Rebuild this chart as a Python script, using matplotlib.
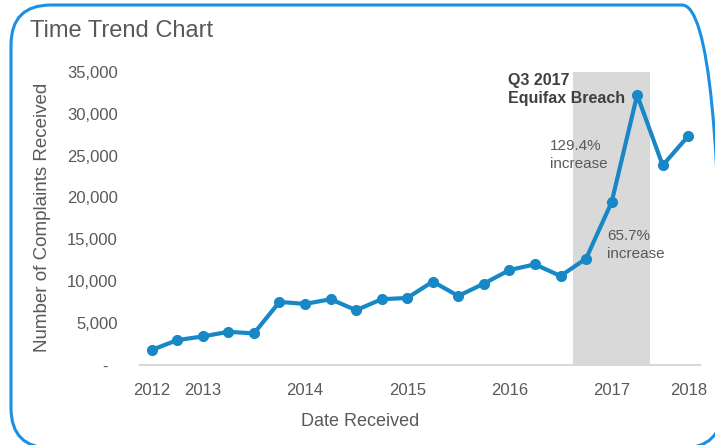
import matplotlib.pyplot as plt
from matplotlib.patches import FancyBboxPatch

# quarterly complaint counts
complaints = [1800, 2970, 3410, 3960, 3770, 7530, 7290, 7850, 6540, 7850, 8000,
              9950, 8240, 9710, 11330, 12010, 10620, 12690, 19420, 32220, 23820, 27330]
year_ticks = [0, 2, 6, 10, 14, 18, 21]
year_labels = ["2012", "2013", "2014", "2015", "2016", "2017", "2018"]
breach_span = [16.5, 19.5]
y_ticks = [0, 5000, 10000, 15000, 20000, 25000, 30000, 35000]

plt.rcParams["font.family"] = ["Liberation Sans", "DejaVu Sans"]
text_grey = "#595959"
line_blue = "#1788c5"

fig = plt.figure(figsize=(7.15, 4.45), dpi=100)
ax = fig.add_axes([140 / 715, 80 / 445, 560 / 715, 293.3 / 445])

x = list(range(len(complaints)))
ax.axvspan(breach_span[0], breach_span[1], color="#d9d9d9", lw=0, zorder=1)
ax.plot(x, complaints, color=line_blue, lw=3, marker="o", markersize=7, zorder=3)

ax.set_xlim(-0.46, 21.46)
ax.set_ylim(0, 35000)
ax.set_xticks(year_ticks)
ax.set_xticklabels(year_labels)
ax.set_yticks(y_ticks)
ax.set_yticklabels(["-  "] + [f"{v:,}" for v in y_ticks[1:]])
ax.tick_params(axis="both", length=0, labelsize=12, colors=text_grey)
ax.tick_params(axis="x", pad=13)
ax.tick_params(axis="y", pad=16)

for side in ["top", "right", "left"]:
    ax.spines[side].set_visible(False)
ax.spines["bottom"].set_color("#d9d9d9")
ax.spines["bottom"].set_linewidth(1.5)

# annotations
ax.text(13.95, 32900, "Q3 2017\nEquifax Breach", ha="left", va="center",
        fontsize=11.5, fontweight="bold", color="#404040", linespacing=1.25, zorder=4)
ax.text(15.57, 25100, "129.4%\nincrease", ha="left", va="center",
        fontsize=11, color=text_grey, linespacing=1.35, zorder=4)
ax.text(17.82, 14330, "65.7%\nincrease", ha="left", va="center",
        fontsize=11, color=text_grey, linespacing=1.35, zorder=4)

fig.text(30 / 715, 1 - 31 / 445, "Time Trend Chart", ha="left", va="center",
         fontsize=17, color=text_grey)
fig.text(360 / 715, 1 - 422 / 445, "Date Received", ha="center", va="center",
         fontsize=13, color=text_grey)
fig.text(43 / 715, 1 - 217 / 445, "Number of Complaints Received", ha="center",
         va="center", rotation=90, fontsize=13.5, color=text_grey)

# rounded blue frame
frame = FancyBboxPatch((0.11, -0.03), 7.11, 4.43,
                       boxstyle="round,pad=0,rounding_size=0.4",
                       transform=fig.dpi_scale_trans, fill=False,
                       edgecolor="#1a8fe3", linewidth=2.2)
fig.patches.append(frame)

fig.savefig("out.png", dpi=100)
